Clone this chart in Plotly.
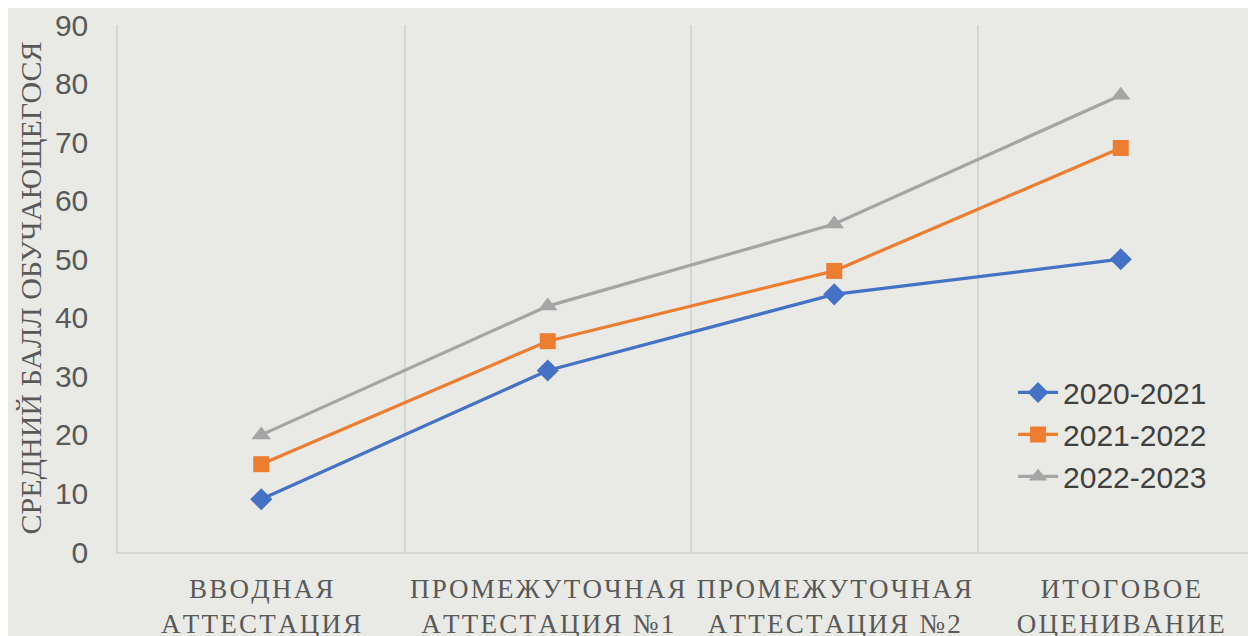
import plotly.graph_objects as go

categories = ["ВВОДНАЯ<br>АТТЕСТАЦИЯ", "ПРОМЕЖУТОЧНАЯ<br>АТТЕСТАЦИЯ №1",
              "ПРОМЕЖУТОЧНАЯ<br>АТТЕСТАЦИЯ №2", "ИТОГОВОЕ<br>ОЦЕНИВАНИЕ"]
series_names = ["2020-2021", "2021-2022", "2022-2023"]
s2020 = [9, 31, 44, 50]
s2021 = [15, 36, 48, 69]
s2022 = [20, 42, 56, 78]
y_ticks = [0, 10, 20, 30, 40, 50, 60, 70, 80, 90]
y_title = "СРЕДНИЙ БАЛЛ ОБУЧАЮЩЕГОСЯ"

def spaced(label):
    # widen letter spacing with hair spaces
    return "<br>".join("\u200a".join(list(part)) for part in label.split("<br>"))

colors = ["#4472C4", "#ED7D31", "#A5A5A5"]
symbols = ["diamond", "square", "triangle-up"]
msizes = [17, 16, 17]
xs = list(range(len(categories)))

fig = go.Figure()
for name, vals, c, s, ms in zip(series_names, [s2020, s2021, s2022], colors, symbols, msizes):
    fig.add_trace(go.Scatter(x=xs, y=vals, name=name, mode="lines+markers",
                             line=dict(color=c, width=3.25),
                             marker=dict(symbol=s, size=ms, color=c)))

bg = "#E9EAE5"
fig.update_layout(
    width=1256, height=636,
    paper_bgcolor=bg, plot_bgcolor=bg,
    margin=dict(l=110, r=0, t=17, b=92),
    font=dict(family="Liberation Sans, Arial", color="#595959"),
    legend=dict(x=0.781, y=0.352, xanchor="left", yanchor="top",
                bgcolor="rgba(0,0,0,0)", font=dict(size=30, color="#404040"),
                itemwidth=40, tracegroupgap=0),
    showlegend=True,
)
fig.update_xaxes(
    range=[-0.5, 3.5],
    tickmode="array", tickvals=xs, ticktext=[spaced(c) for c in categories],
    tickfont=dict(family="Liberation Serif, DejaVu Serif", size=27, color="#595959"),
    showgrid=False, zeroline=False,
    showline=True, linecolor="#D5D5D5", linewidth=1.5,
    ticks="", ticklabelstandoff=12,
    minor=dict(tickmode="array", tickvals=[0.5, 1.5, 2.5], showgrid=True,
               gridcolor="#D5D5D5", gridwidth=1.5),
)
fig.update_yaxes(
    range=[0, 90], tickmode="array", tickvals=y_ticks,
    tickfont=dict(family="Liberation Sans, Arial", size=30, color="#595959"),
    showgrid=False, zeroline=False,
    showline=True, linecolor="#D5D5D5", linewidth=1.5,
    ticks="", ticklabelstandoff=22,
)
fig.add_annotation(text=y_title, textangle=-90, xref="paper", yref="paper",
                   x=0, y=0.5, xanchor="center", yanchor="middle", xshift=-88,
                   showarrow=False,
                   font=dict(family="Liberation Serif, DejaVu Serif", size=30, color="#595959"))
fig.write_html("out.html")
